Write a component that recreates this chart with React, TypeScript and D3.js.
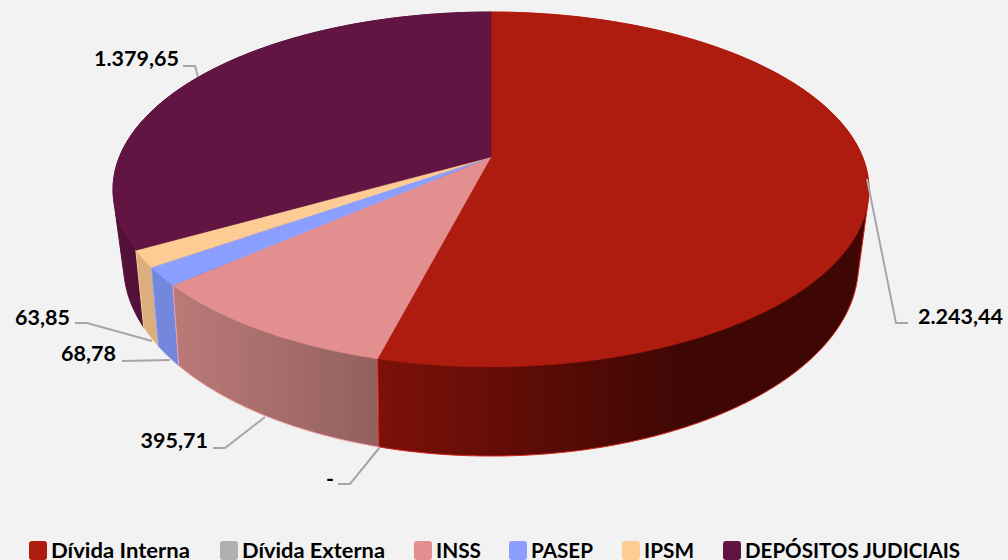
import React from "react";
import * as d3 from "d3";

const categories = ["Dívida Interna", "Dívida Externa", "INSS", "PASEP", "IPSM", "DEPÓSITOS JUDICIAIS"];
const values = [2243.44, 0, 395.71, 68.78, 63.85, 1379.65];
const valueLabels = ["2.243,44", "-", "395,71", "68,78", "63,85", "1.379,65"];
const topColors = ["#ae1b0f", "#b0b0b0", "#e38f8f", "#8a9fff", "#fdcb94", "#621443"];
const wallLeft = ["#7c1108", "#808080", "#ba7a78", "#7388dc", "#dbae7e", "#531039"];
const wallRight = ["#3f0704", "#808080", "#93605e", "#7388dc", "#dbae7e", "#531039"];
const edgeColors = ["#d8261a", "#b0b0b0", "#f0a0a0", "#8a9fff", "#fdcb94", "#531039"];
// leader polylines and label anchors (in page pixels)
const leaders: number[][][] = [
  [[867, 179], [896, 323], [908, 323]],
  [[380, 447], [350, 484], [338, 484]],
  [[265, 417], [225, 448], [213, 448]],
  [[170, 360], [122, 361]],
  [[152, 341], [87, 323], [75, 323]],
  [[198, 77], [195, 66], [183, 66]],
];
const labelAnchors: [number, number, string][] = [
  [918, 324, "start"],
  [334, 486, "end"],
  [208, 448, "end"],
  [116, 361, "end"],
  [70, 325, "end"],
  [179, 66, "end"],
];
const legendX = [29, 220, 414, 509, 622, 723];
const legendWidths = [139, 143, 45, 62, 50, 215];

const W = 1008, H = 560;
const FONT = "Lato, Carlito, 'Open Sans', sans-serif";

// A perspective view of a disc: the centre lands on (cx, cy), nearer points are magnified.
function disc(cx: number, cy: number, A: number, B: number, k: number) {
  return (angle: number): [number, number] => {
    const X = Math.sin(angle), Y = -Math.cos(angle);
    const den = 1 - k * Y;
    return [cx + (A * X) / den, cy + (B * Y) / den];
  };
}
const topRim = disc(491, 157, 371.6, 171.5, 0.183);
const botRim = disc(491, 226.8, 360, 183.4, 0.2);
const topApex: [number, number] = [491, 157];

function samples(a0: number, a1: number) {
  const step = (Math.PI / 180) * 0.5;
  const n = Math.max(1, Math.ceil((a1 - a0) / step));
  return d3.range(n + 1).map((i) => a0 + ((a1 - a0) * i) / n);
}

export default function App() {
  const arcs = d3.pie<number>().sort(null).value((d) => d)(values);
  const line = d3.line();
  const shown = arcs.map((a, i) => ({ a, i })).filter((d) => d.a.endAngle > d.a.startAngle);
  return (
    <svg width={W} height={H} viewBox={`0 0 ${W} ${H}`}
      style={{ position: "absolute", left: 0, top: 0, background: "#f2f2f2", display: "block" }}>
      <defs>
        {shown.map(({ i, a }) => {
          const xs = samples(a.startAngle, a.endAngle).map((t) => topRim(t)[0]);
          const isMain = i === 0;
          const x1 = isMain ? 378 : d3.min(xs)!;
          const x2 = isMain ? 680 : d3.max(xs)!;
          return (
            <linearGradient key={i} id={`wall${i}`} gradientUnits="userSpaceOnUse"
              x1={x1} x2={x2} y1={0} y2={0}>
              <stop offset="0" stopColor={wallLeft[i]} />
              <stop offset="1" stopColor={wallRight[i]} />
            </linearGradient>
          );
        })}
      </defs>
      {[...shown].reverse().map(({ a, i }) => {
        const ts = samples(a.startAngle, a.endAngle);
        const hull = d3.polygonHull([...ts.map(topRim), ...ts.map(botRim)])!;
        return (
          <path key={i} d={line(hull)! + "Z"} fill={`url(#wall${i})`}
            stroke={edgeColors[i]} strokeWidth={1} strokeLinejoin="round" />
        );
      })}
      {shown.map(({ a, i }) => {
        const pts = [topApex, ...samples(a.startAngle, a.endAngle).map(topRim)];
        return <path key={i} d={line(pts)! + "Z"} fill={topColors[i]} stroke={topColors[i]} strokeWidth={0.5} />;
      })}
      {leaders.map((l, i) => (
        <path key={i} d={line(l as [number, number][])!} fill="none" stroke="#a6a6a6" strokeWidth={2} />
      ))}
      {labelAnchors.map(([x, y, anchor], i) => (
        <text key={i} x={x} y={y} textAnchor={anchor as any}
          fontFamily={FONT} fontWeight={700} fontSize={21.5} fill="#000">{valueLabels[i]}</text>
      ))}
      {categories.map((c, i) => (
        <g key={c}>
          <rect x={legendX[i]} y={541} width={18} height={19} rx={3} fill={topColors[i]} />
          <text x={legendX[i] + 22} y={558} fontFamily={FONT} fontWeight={700} fontSize={21}
            textLength={legendWidths[i]} lengthAdjust="spacingAndGlyphs" fill="#000">{c}</text>
        </g>
      ))}
    </svg>
  );
}
